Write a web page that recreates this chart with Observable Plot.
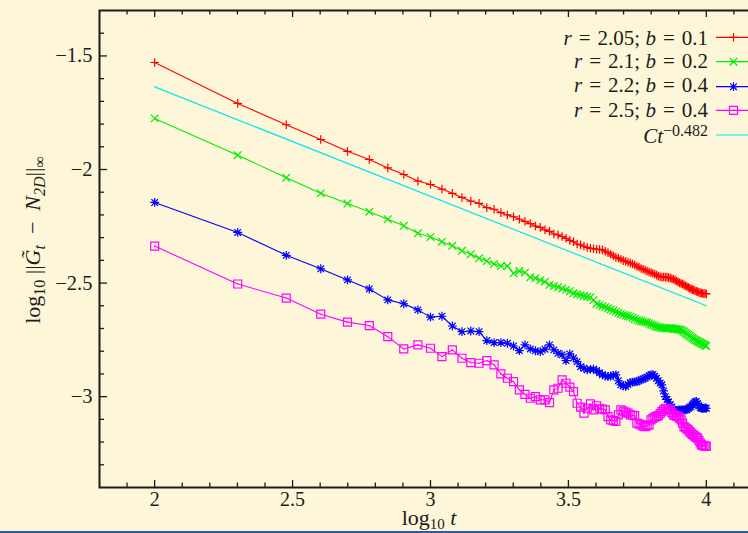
<!DOCTYPE html>
<html><head><meta charset="utf-8">
<script src="https://cdn.jsdelivr.net/npm/d3@7"></script>
<script src="https://cdn.jsdelivr.net/npm/@observablehq/plot@0.6"></script>
<style>
html,body{margin:0;padding:0;background:#fdf6d8;overflow:hidden;width:748px;height:533px;}
#chart{position:absolute;left:0;top:0;width:748px;height:533px;overflow:hidden;}
#chart svg{max-width:none !important;width:780px !important;height:533px !important;}
#chart svg text{font-family:'Liberation Serif','Times New Roman',serif;}
#bar{position:absolute;left:0;top:531px;width:748px;height:2px;background:#2d5d9a;}
</style></head><body><div id="chart"></div><div id="bar"></div>
<script>
// sample times t (x = log10 t)
const t = [100,200,300,400,500,600,700,800,900,1000,
1100,1200,1300,1400,1500,1600,1700,1800,1900,2000,
2100,2200,2300,2400,2500,2600,2700,2800,2900,3000,
3100,3200,3300,3400,3500,3600,3700,3800,3900,4000,
4100,4200,4300,4400,4500,4600,4700,4800,4900,5000,
5100,5200,5300,5400,5500,5600,5700,5800,5900,6000,
6100,6200,6300,6400,6500,6600,6700,6800,6900,7000,
7100,7200,7300,7400,7500,7600,7700,7800,7900,8000,
8100,8200,8300,8400,8500,8600,8700,8800,8900,9000,
9100,9200,9300,9400,9500,9600,9700,9800,9900,10000];

const seriesNames = ["r = 2.05; b = 0.1","r = 2.1; b = 0.2","r = 2.2; b = 0.4","r = 2.5; b = 0.4"];

const red = [-1.529,-1.709,-1.803,-1.868,-1.920,-1.956,-1.993,-2.022,-2.051,-2.066,
-2.086,-2.105,-2.123,-2.139,-2.149,-2.168,-2.175,-2.190,-2.200,-2.208,
-2.219,-2.228,-2.238,-2.249,-2.255,-2.266,-2.272,-2.284,-2.288,-2.295,
-2.303,-2.312,-2.318,-2.328,-2.332,-2.338,-2.343,-2.347,-2.349,-2.351,
-2.352,-2.354,-2.360,-2.366,-2.373,-2.380,-2.387,-2.390,-2.395,-2.401,
-2.404,-2.408,-2.412,-2.416,-2.420,-2.426,-2.430,-2.436,-2.439,-2.443,
-2.447,-2.451,-2.454,-2.457,-2.461,-2.465,-2.469,-2.472,-2.474,-2.473,
-2.474,-2.474,-2.476,-2.478,-2.481,-2.483,-2.487,-2.491,-2.495,-2.499,
-2.502,-2.504,-2.508,-2.512,-2.515,-2.519,-2.523,-2.526,-2.529,-2.531,
-2.534,-2.536,-2.538,-2.541,-2.543,-2.544,-2.546,-2.547,-2.546,-2.548];

const green = [-1.775,-1.937,-2.036,-2.105,-2.150,-2.186,-2.219,-2.248,-2.281,-2.297,
-2.318,-2.336,-2.358,-2.373,-2.391,-2.403,-2.416,-2.425,-2.425,-2.457,
-2.447,-2.454,-2.474,-2.479,-2.487,-2.494,-2.508,-2.513,-2.518,-2.524,
-2.530,-2.536,-2.545,-2.549,-2.553,-2.557,-2.560,-2.562,-2.575,-2.592,
-2.597,-2.602,-2.606,-2.611,-2.616,-2.621,-2.626,-2.631,-2.636,-2.640,
-2.643,-2.646,-2.648,-2.653,-2.658,-2.662,-2.665,-2.668,-2.670,-2.672,
-2.674,-2.678,-2.682,-2.685,-2.689,-2.692,-2.694,-2.696,-2.698,-2.699,
-2.699,-2.700,-2.699,-2.698,-2.699,-2.701,-2.702,-2.703,-2.704,-2.705,
-2.706,-2.710,-2.714,-2.719,-2.724,-2.728,-2.733,-2.738,-2.742,-2.746,
-2.750,-2.753,-2.756,-2.759,-2.762,-2.765,-2.768,-2.771,-2.774,-2.777];

const blue = [-2.145,-2.277,-2.378,-2.437,-2.486,-2.526,-2.574,-2.591,-2.618,-2.650,
-2.646,-2.689,-2.714,-2.711,-2.714,-2.753,-2.762,-2.762,-2.765,-2.777,
-2.797,-2.772,-2.790,-2.798,-2.802,-2.791,-2.772,-2.794,-2.809,-2.816,
-2.841,-2.812,-2.830,-2.846,-2.868,-2.875,-2.882,-2.880,-2.879,-2.885,
-2.895,-2.904,-2.908,-2.912,-2.910,-2.906,-2.904,-2.930,-2.948,-2.952,
-2.956,-2.946,-2.938,-2.936,-2.935,-2.934,-2.930,-2.926,-2.922,-2.919,
-2.914,-2.908,-2.904,-2.902,-2.910,-2.919,-2.930,-2.940,-2.948,-2.975,
-3.000,-3.012,-3.024,-3.036,-3.046,-3.056,-3.066,-3.063,-3.060,-3.058,
-3.058,-3.058,-3.058,-3.058,-3.058,-3.052,-3.047,-3.044,-3.036,-3.028,
-3.022,-3.021,-3.030,-3.040,-3.048,-3.051,-3.052,-3.051,-3.050,-3.051];

const magenta = [-2.337,-2.504,-2.566,-2.637,-2.672,-2.687,-2.736,-2.790,-2.772,-2.787,
-2.824,-2.794,-2.831,-2.850,-2.853,-2.841,-2.860,-2.900,-2.919,-2.934,
-2.970,-2.990,-3.007,-3.000,-3.014,-3.014,-3.026,-2.970,-2.963,-2.926,
-2.941,-2.958,-2.978,-3.029,-3.046,-3.073,-3.051,-3.032,-3.058,-3.040,
-3.051,-3.055,-3.058,-3.088,-3.102,-3.106,-3.109,-3.080,-3.058,-3.064,
-3.068,-3.073,-3.080,-3.082,-3.084,-3.117,-3.120,-3.124,-3.130,-3.132,
-3.128,-3.124,-3.102,-3.096,-3.090,-3.087,-3.084,-3.075,-3.066,-3.058,
-3.051,-3.054,-3.056,-3.058,-3.070,-3.080,-3.084,-3.086,-3.088,-3.095,
-3.102,-3.117,-3.132,-3.137,-3.142,-3.146,-3.154,-3.161,-3.166,-3.170,
-3.175,-3.179,-3.183,-3.193,-3.203,-3.212,-3.215,-3.217,-3.218,-3.219];

// fitted power law C t^-0.482 (two endpoints in log10 space)
const fitX = [2, 4];
const fitY = [-1.636, -2.600];

const xTicks = [2, 2.5, 3, 3.5, 4];
const xMinor = [1.9,2.1,2.2,2.3,2.4,2.6,2.7,2.8,2.9,3.1,3.2,3.3,3.4,3.6,3.7,3.8,3.9,4.1];
const yTicks = [-3, -2.5, -2, -1.5];
const yMinor = [-3.3,-3.2,-3.1,-2.9,-2.8,-2.7,-2.6,-2.4,-2.3,-2.2,-2.1,-1.9,-1.8,-1.7,-1.6,-1.4];

const FONT = "'Liberation Serif','Times New Roman',serif";
const INK = "#1c1c1c";
const colors = ["#ff0000", "#00ee00", "#0000ff", "#ff00ff"];
const fitColor = "#00e8f0";

const symPlus = {draw(c){const r=4.3;c.moveTo(-r,0);c.lineTo(r,0);c.moveTo(0,-r);c.lineTo(0,r);}};
const symTimes = {draw(c){const r=3.8;c.moveTo(-r,-r);c.lineTo(r,r);c.moveTo(-r,r);c.lineTo(r,-r);}};
const symStar = {draw(c){const r=4.4,s=3.3;c.moveTo(-r,0);c.lineTo(r,0);c.moveTo(0,-r);c.lineTo(0,r);
  c.moveTo(-s,-s);c.lineTo(s,s);c.moveTo(-s,s);c.lineTo(s,-s);}};
const symSquare = {draw(c){const r=4;c.moveTo(-r,-r);c.lineTo(r,-r);c.lineTo(r,r);c.lineTo(-r,r);c.closePath();
  c.moveTo(-0.5,0);c.lineTo(0.5,0);}};
const symbols = [symPlus, symTimes, symStar, symSquare];

const allSeries = [red, green, blue, magenta];
const rows = allSeries.map((vals, si) => vals.map((v, i) => ({x: Math.log10(t[i]), y: v, s: seriesNames[si]})));
const fitRows = fitX.map((x, i) => ({x, y: fitY[i]}));

const W = 780, H = 533, ML = 99, MR = 19, MT = 10, MB = 46;
const PW = W - ML - MR, PH = H - MT - MB;
const tickStyle = {stroke: INK, strokeWidth: 1.3};

const marks = [
  Plot.ruleX(xTicks, {x: d => d, insetTop: PH - 7, ...tickStyle}),
  Plot.ruleX(xMinor, {x: d => d, insetTop: PH - 4.5, ...tickStyle}),
  Plot.ruleX(xTicks, {x: d => d, insetBottom: PH - 7, ...tickStyle}),
  Plot.ruleX(xMinor, {x: d => d, insetBottom: PH - 4.5, ...tickStyle}),
  Plot.ruleY(yTicks, {y: d => d, insetRight: PW - 8, ...tickStyle}),
  Plot.ruleY(yMinor, {y: d => d, insetRight: PW - 5, ...tickStyle}),
  Plot.ruleY(yTicks, {y: d => d, insetLeft: PW - 8, ...tickStyle}),
  Plot.ruleY(yMinor, {y: d => d, insetLeft: PW - 5, ...tickStyle}),
];
rows.forEach((r, si) => {
  marks.push(Plot.line(r, {x: "x", y: "y", stroke: colors[si], strokeWidth: 1.1}));
  marks.push(Plot.dot(r, {x: "x", y: "y", symbol: symbols[si], stroke: colors[si], fill: "none", strokeWidth: 1.2, r: 4}));
});
marks.push(Plot.line(fitRows, {x: "x", y: "y", stroke: fitColor, strokeWidth: 1.2}));
marks.push(Plot.frame({stroke: INK, strokeWidth: 2}));
marks.push(Plot.axisX(xTicks, {tickSize: 0, tickPadding: 4, tickFormat: d3.format("~g"), label: null, fill: INK, fontSize: 20}));
marks.push(Plot.axisY(yTicks, {tickSize: 0, tickPadding: 7, tickFormat: d3.format("~g"), label: null, fill: INK, fontSize: 20.5}));

const plot = Plot.plot({
  width: W, height: H,
  marginLeft: ML, marginRight: MR, marginTop: MT, marginBottom: MB,
  x: {domain: [1.8, 4.2]},
  y: {domain: [-3.4, -1.3]},
  style: {background: "transparent", fontFamily: FONT, fontSize: "20px", color: INK, overflow: "visible", maxWidth: "none"},
  marks
});
document.getElementById("chart").appendChild(plot);

const svg = d3.select(plot);
function rich(sel, parts, subSize, subShift, supShift) {
  let shift = 0;
  parts.forEach(p => {
    const [txt, o] = Array.isArray(p) ? p : [p, {}];
    const target = o.sub ? subShift : o.sup ? -supShift : 0;
    const ts = sel.append("tspan").text(txt);
    if (target !== shift) { ts.attr("dy", target - shift); shift = target; }
    if (o.it) ts.attr("font-style", "italic");
    if (o.sub || o.sup) ts.attr("font-size", subSize);
  });
}
const g = svg.append("g").attr("font-size", 20).attr("fill", INK).attr("text-anchor", "start");

// x label
rich(g.append("text").attr("x", 429).attr("y", 525).attr("font-size", 22).attr("text-anchor", "middle"),
  ["log", ["10", {sub: 1}], " ", ["t", {it: 1}]], 15, 4, 0);
// y label
rich(g.append("text").attr("transform", "translate(40,240) rotate(-90)").attr("font-size", 22).attr("text-anchor", "middle"),
  ["log", ["10", {sub: 1}], " ||", ["G\u0303", {it: 1}], ["t", {it: 1, sub: 1}], "\u2002\u2212\u2002", ["N", {it: 1}], ["2D", {it: 1, sub: 1}], "||", ["\u221E", {sub: 1}]], 16, 5, 0);

// legend
const legendText = [
  [["r", {it: 1}], "\u2004=\u20042.05; ", ["b", {it: 1}], "\u2004=\u20040.1"],
  [["r", {it: 1}], "\u2004=\u20042.1; ", ["b", {it: 1}], "\u2004=\u20040.2"],
  [["r", {it: 1}], "\u2004=\u20042.2; ", ["b", {it: 1}], "\u2004=\u20040.4"],
  [["r", {it: 1}], "\u2004=\u20042.5; ", ["b", {it: 1}], "\u2004=\u20040.4"],
  [["Ct", {it: 1}], ["\u22120.482", {sup: 1}]]
];
const baselines = [44.5, 68, 92.3, 116.5, 143];
const lineYs = [37.3, 61.7, 86.7, 110.3, 135];
const legColors = [...colors, fitColor];
legendText.forEach((parts, i) => {
  rich(g.append("text").attr("x", 708).attr("y", baselines[i]).attr("text-anchor", "end").attr("font-size", 21), parts, 16, 0, 7.5);
  g.append("line").attr("x1", 716).attr("x2", 762).attr("y1", lineYs[i]).attr("y2", lineYs[i])
    .attr("stroke", legColors[i]).attr("stroke-width", 1.2);
  if (i < 4) {
    g.append("path").attr("d", d3.symbol().type(symbols[i])()).attr("transform", `translate(733.5,${lineYs[i]})`)
      .attr("fill", "none").attr("stroke", legColors[i]).attr("stroke-width", 1.2);
  }
});
</script></body></html>
